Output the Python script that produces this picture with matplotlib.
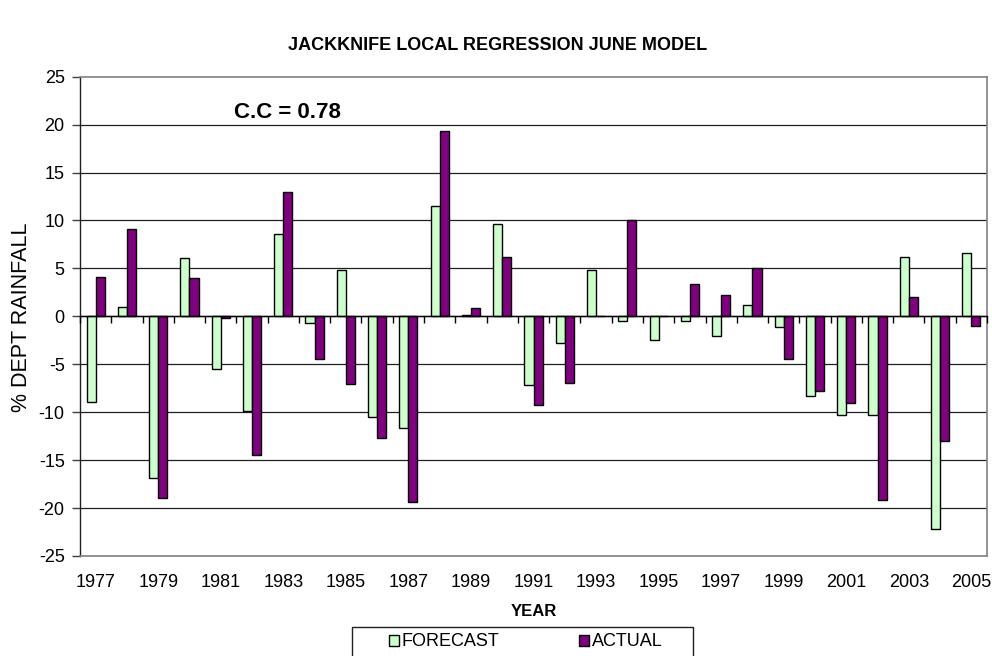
import numpy as np
import matplotlib
matplotlib.use("Agg")
import matplotlib.pyplot as plt
from matplotlib.patches import Rectangle

plt.rcParams['font.family'] = ['Liberation Sans', 'DejaVu Sans']

years = list(range(1977, 2006))
forecast = [-8.9, 1.0, -16.9, 6.1, -5.5, -9.9, 8.6, -0.7, 4.8, -10.5,
            -11.6, 11.5, 0.15, 9.6, -7.2, -2.8, 4.8, -0.5, -2.5, -0.5,
            -2.0, 1.2, -1.1, -8.3, -10.3, -10.3, 6.2, -22.2, 6.6]
actual = [4.1, 9.1, -19.0, 4.0, -0.2, -14.5, 13.0, -4.5, -7.1, -12.7,
          -19.4, 19.3, 0.9, 6.2, -9.3, -7.0, 0.0, 10.0, 0.0, 3.4,
          2.2, 5.0, -4.4, -7.8, -9.0, -19.2, 2.0, -13.0, -1.0]
yticks = list(range(-25, 30, 5))
xtick_labels = [str(y) for y in years[::2]]

W, H = 992, 656
fig = plt.figure(figsize=(W / 100, H / 100), dpi=100)
ax = fig.add_axes([80 / W, 1 - 556 / H, 907 / W, (556 - 76.7) / H])

x = np.arange(len(years))
bw = 0.29
ax.bar(x - bw / 2, forecast, bw, color='#CCFFCC', edgecolor='black', linewidth=1.0,
       label='FORECAST', zorder=3)
ax.bar(x + bw / 2, actual, bw, color='#800080', edgecolor='black', linewidth=1.0,
       label='ACTUAL', zorder=3)

ax.set_xlim(-0.5, len(years) - 0.5)
ax.set_ylim(-25, 25)
ax.set_yticks(yticks)
ax.set_yticklabels([str(v) for v in yticks], fontsize=13)
ax.tick_params(axis='y', direction='out', length=6, width=1, pad=5, color='#404040')
ax.set_xticks(x[::2])
ax.set_xticklabels(xtick_labels, fontsize=13)
ax.tick_params(axis='x', length=0, pad=13)

ax.set_axisbelow(True)
ax.yaxis.grid(True, color='#202020', linewidth=0.9)
gl = ax.get_ygridlines()
gl[0].set_visible(False)
gl[-1].set_visible(False)

for s in ['top', 'right', 'bottom']:
    ax.spines[s].set_color('#808080')
    ax.spines[s].set_linewidth(1.2)
ax.spines['left'].set_color('#202020')
ax.spines['left'].set_linewidth(1.0)

sec = ax.secondary_xaxis(0.5)
sec.set_alignment('bottom')
sec.set_xticks(np.arange(-0.5, len(years), 1.0))
sec.tick_params(axis='x', direction='out', length=5, width=1, labelbottom=False,
                labeltop=False, color='black')
sec.spines['bottom'].set_color('black')
sec.spines['bottom'].set_linewidth(1.0)
sec.set_zorder(4)

fig.text(497.5 / W, 1 - 46 / H, 'JACKKNIFE LOCAL REGRESSION JUNE MODEL',
         fontsize=13, fontweight='bold', ha='center', va='center')
fig.text(287 / W, 1 - 112 / H, 'C.C = 0.78', fontsize=16, fontweight='bold',
         ha='center', va='center')
fig.text(22 / W, 1 - 317 / H, '% DEPT RAINFALL', fontsize=15.5, rotation=90,
         ha='center', va='center')
fig.text(533.5 / W, 1 - 611 / H, 'YEAR', fontsize=12, fontweight='bold',
         ha='center', va='center')

fig.patches.append(Rectangle((352 / W, -5 / H), 341 / W, (656 - 627 + 5) / H,
                             transform=fig.transFigure, fill=False,
                             edgecolor='#202020', linewidth=1.0))
leg = fig.legend(loc='center left', bbox_to_anchor=(389 / W, 1 - 642 / H), ncol=2,
                 frameon=False, fontsize=13, borderpad=0, borderaxespad=0,
                 handlelength=0.55, handleheight=0.55, handletextpad=0.15,
                 columnspacing=4.4)

fig.savefig('out.png', dpi=100)
